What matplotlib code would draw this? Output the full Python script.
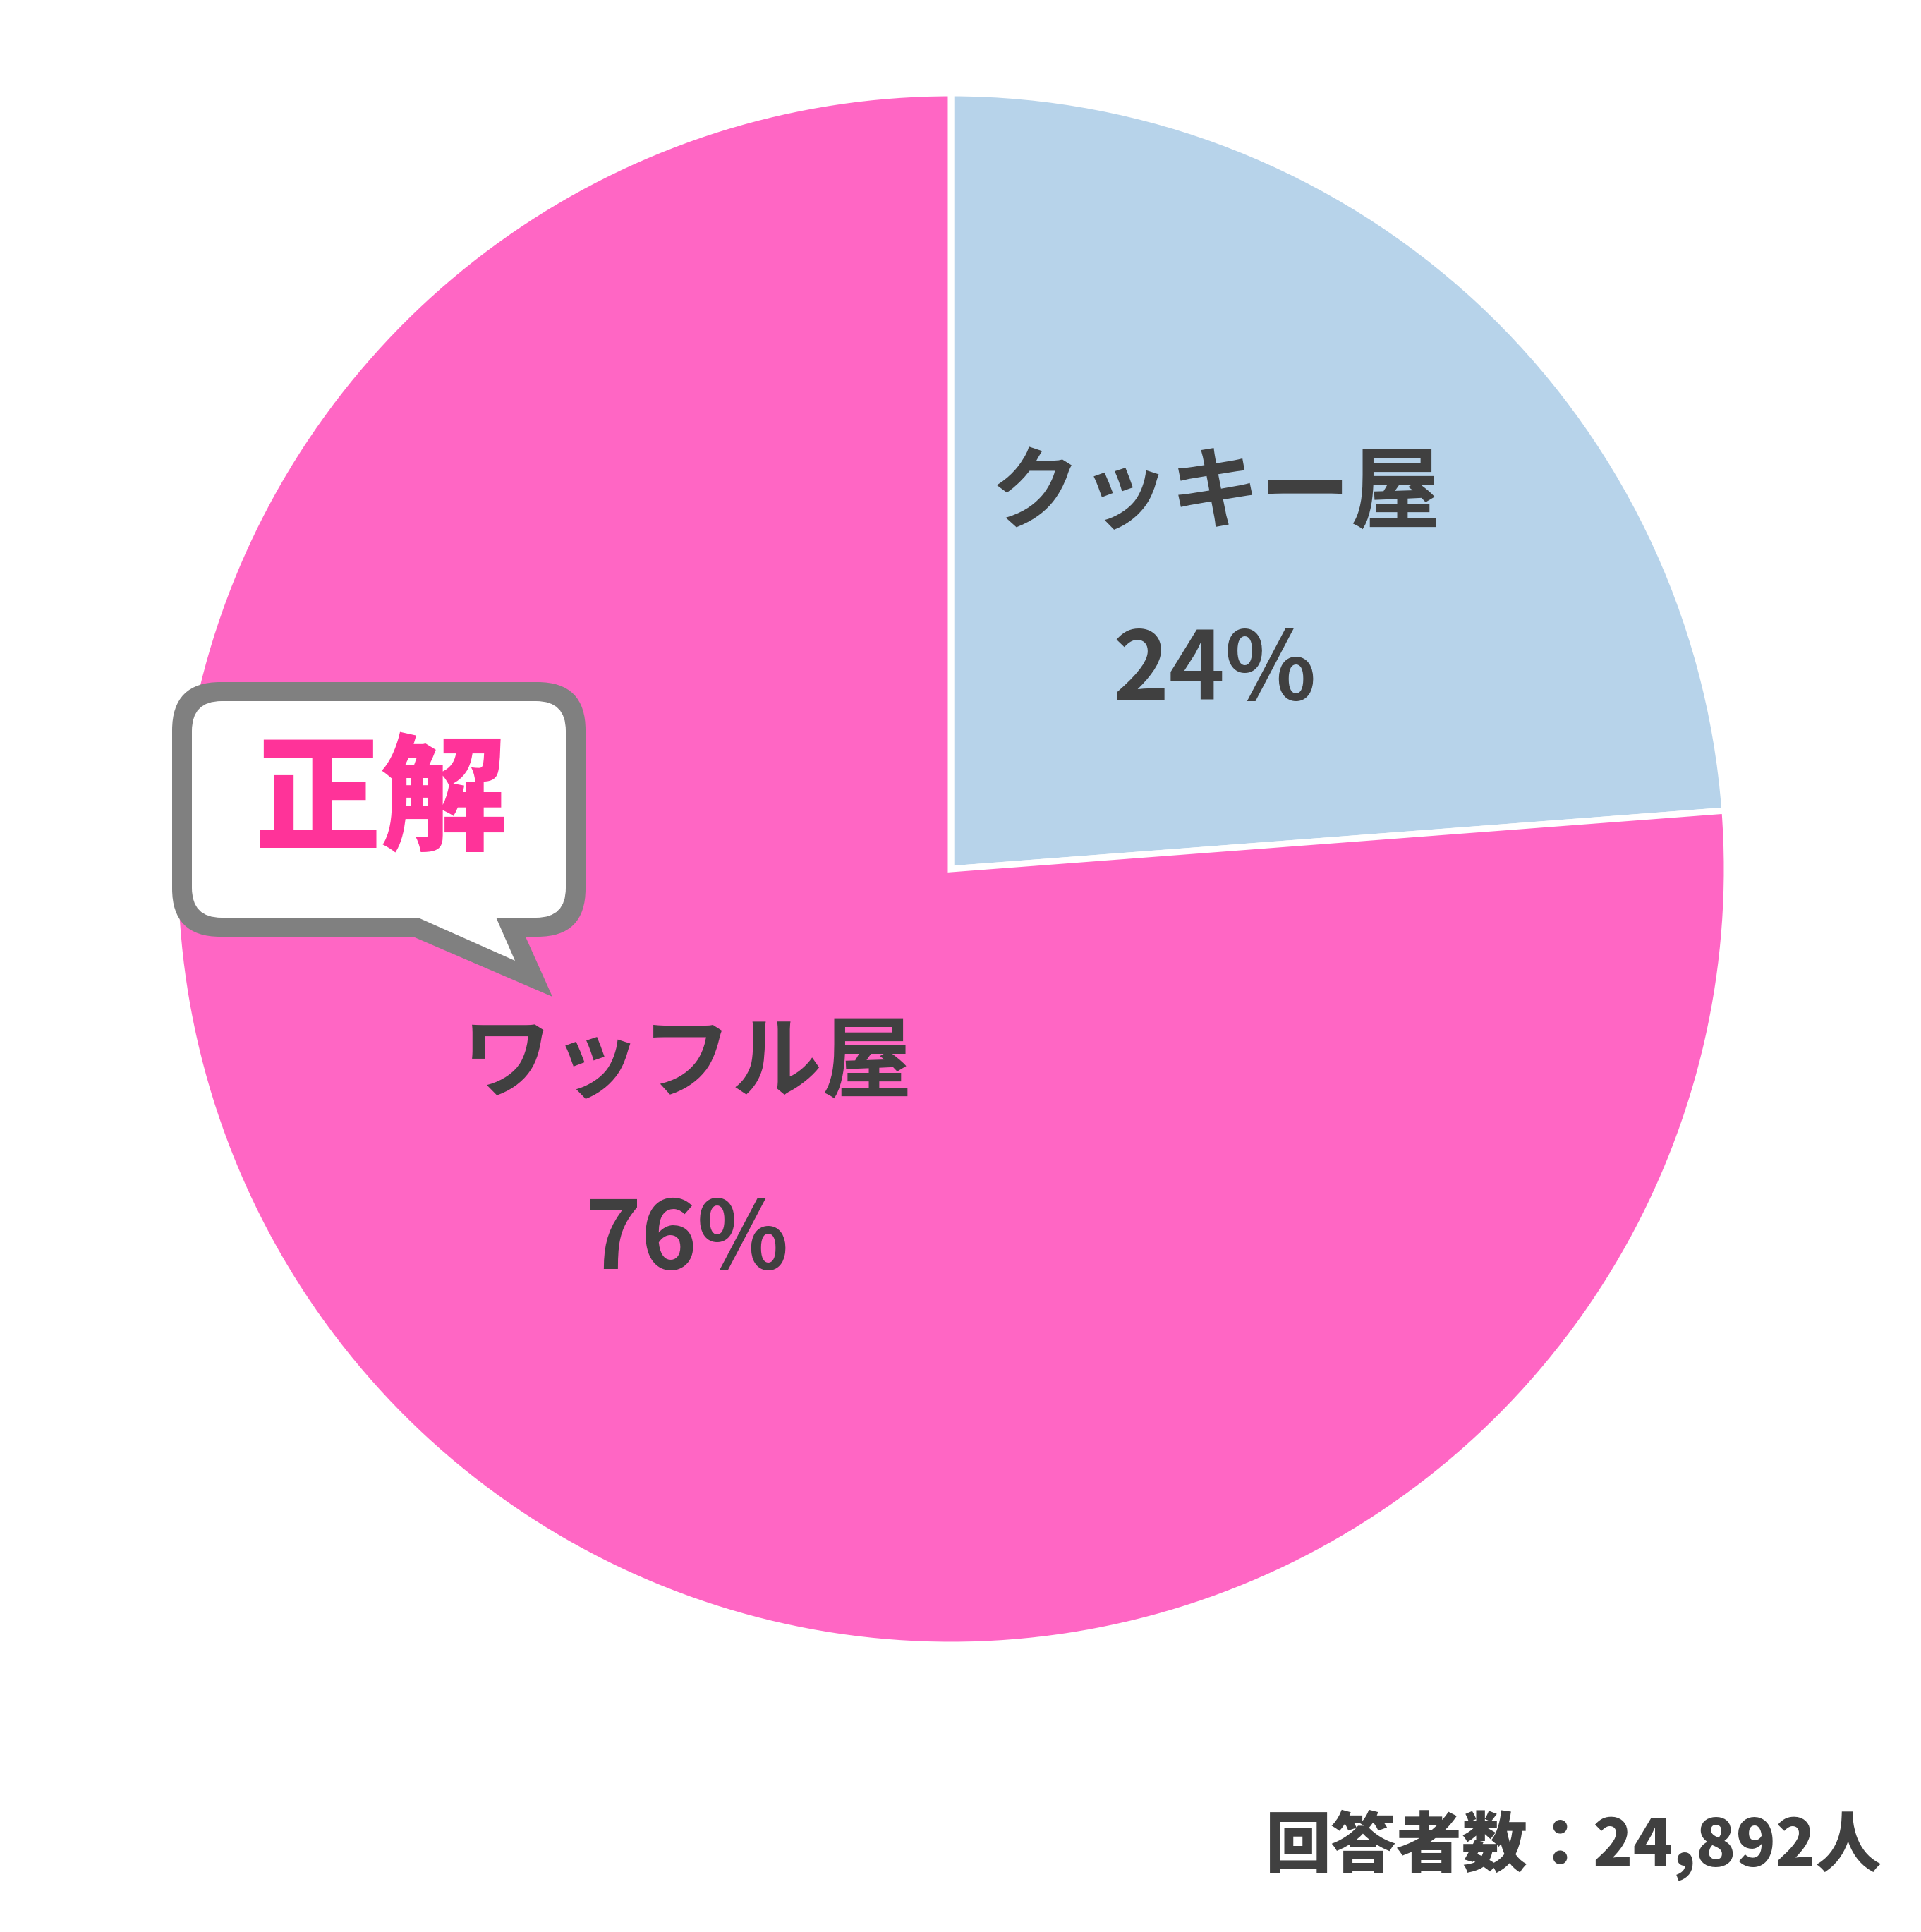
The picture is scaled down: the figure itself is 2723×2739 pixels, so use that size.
import matplotlib
matplotlib.use("Agg")
import matplotlib.pyplot as plt
from matplotlib.patches import FancyBboxPatch, Polygon
import numpy as np

plt.rcParams['font.family'] = ['Noto Sans CJK JP', 'DejaVu Sans']

# ==== data
labels = ["クッキー屋", "ワッフル屋"]
shares = [23.8, 76.2]  # percent, read from the slice boundary
colors = ["#B7D3EA", "#FF66C4"]
answer_label = "正解"
respondents = 24892

W, H = 2723, 2739
fig = plt.figure(figsize=(W / 100, H / 100), dpi=100)

# pie axes : centre (1348, 1232) px, radius 1100 px
cx, cy, R = 1348, 1232, 1100
ax = fig.add_axes([(cx - R) / W, (H - cy - R) / H, 2 * R / W, 2 * R / H])
wedges, _ = ax.pie(shares, colors=colors, startangle=90, counterclock=False,
                   radius=1.0,
                   wedgeprops=dict(edgecolor="white", linewidth=6.5))
ax.set_xlim(-1, 1)
ax.set_ylim(-1, 1)
ax.set_aspect("equal")
ax.axis("off")

text_col = "#404040"
for w, lab, val in zip(wedges, labels, shares):
    mid = np.deg2rad(0.5 * (w.theta1 + w.theta2))
    x, y = 0.5 * np.cos(mid), 0.5 * np.sin(mid)
    ax.text(x, y + 0.115, lab, ha="center", va="center", fontsize=92,
            fontweight="bold", color=text_col)
    ax.text(x, y - 0.113, "{:.0f}%".format(val), ha="center", va="center",
            fontsize=97, fontweight="bold", color=text_col)

# overlay in pixel coords (y down) for callout + footer
ov = fig.add_axes([0, 0, 1, 1])
ov.set_xlim(0, W)
ov.set_ylim(H, 0)
ov.axis("off")
ov.patch.set_alpha(0)

grey = "#808080"
# outer (grey) shape
ov.add_patch(FancyBboxPatch((244 + 68, 967 + 68), 830 - 244 - 136, 1328 - 967 - 136,
                            boxstyle="round,pad=68", fc=grey, ec="none"))
ov.add_patch(Polygon([(581, 1326), (783, 1413), (744, 1326)], closed=True,
                     fc=grey, ec="none"))
# inner (white) shape
ov.add_patch(FancyBboxPatch((272 + 42, 994 + 42), 802 - 272 - 84, 1301 - 994 - 84,
                            boxstyle="round,pad=42", fc="white", ec="none"))
ov.add_patch(Polygon([(586, 1298), (730, 1362), (702, 1298)], closed=True,
                     fc="white", ec="none"))
ov.text(540, 1137, answer_label, ha="center", va="center", fontsize=129,
        fontweight="black", color="#FF3399")

ov.text(2668, 2616, "回答者数：{:,}人".format(respondents), ha="right", va="center",
        fontsize=67, fontweight="black", color=text_col)

fig.savefig("out.png", dpi=100, facecolor="white")
